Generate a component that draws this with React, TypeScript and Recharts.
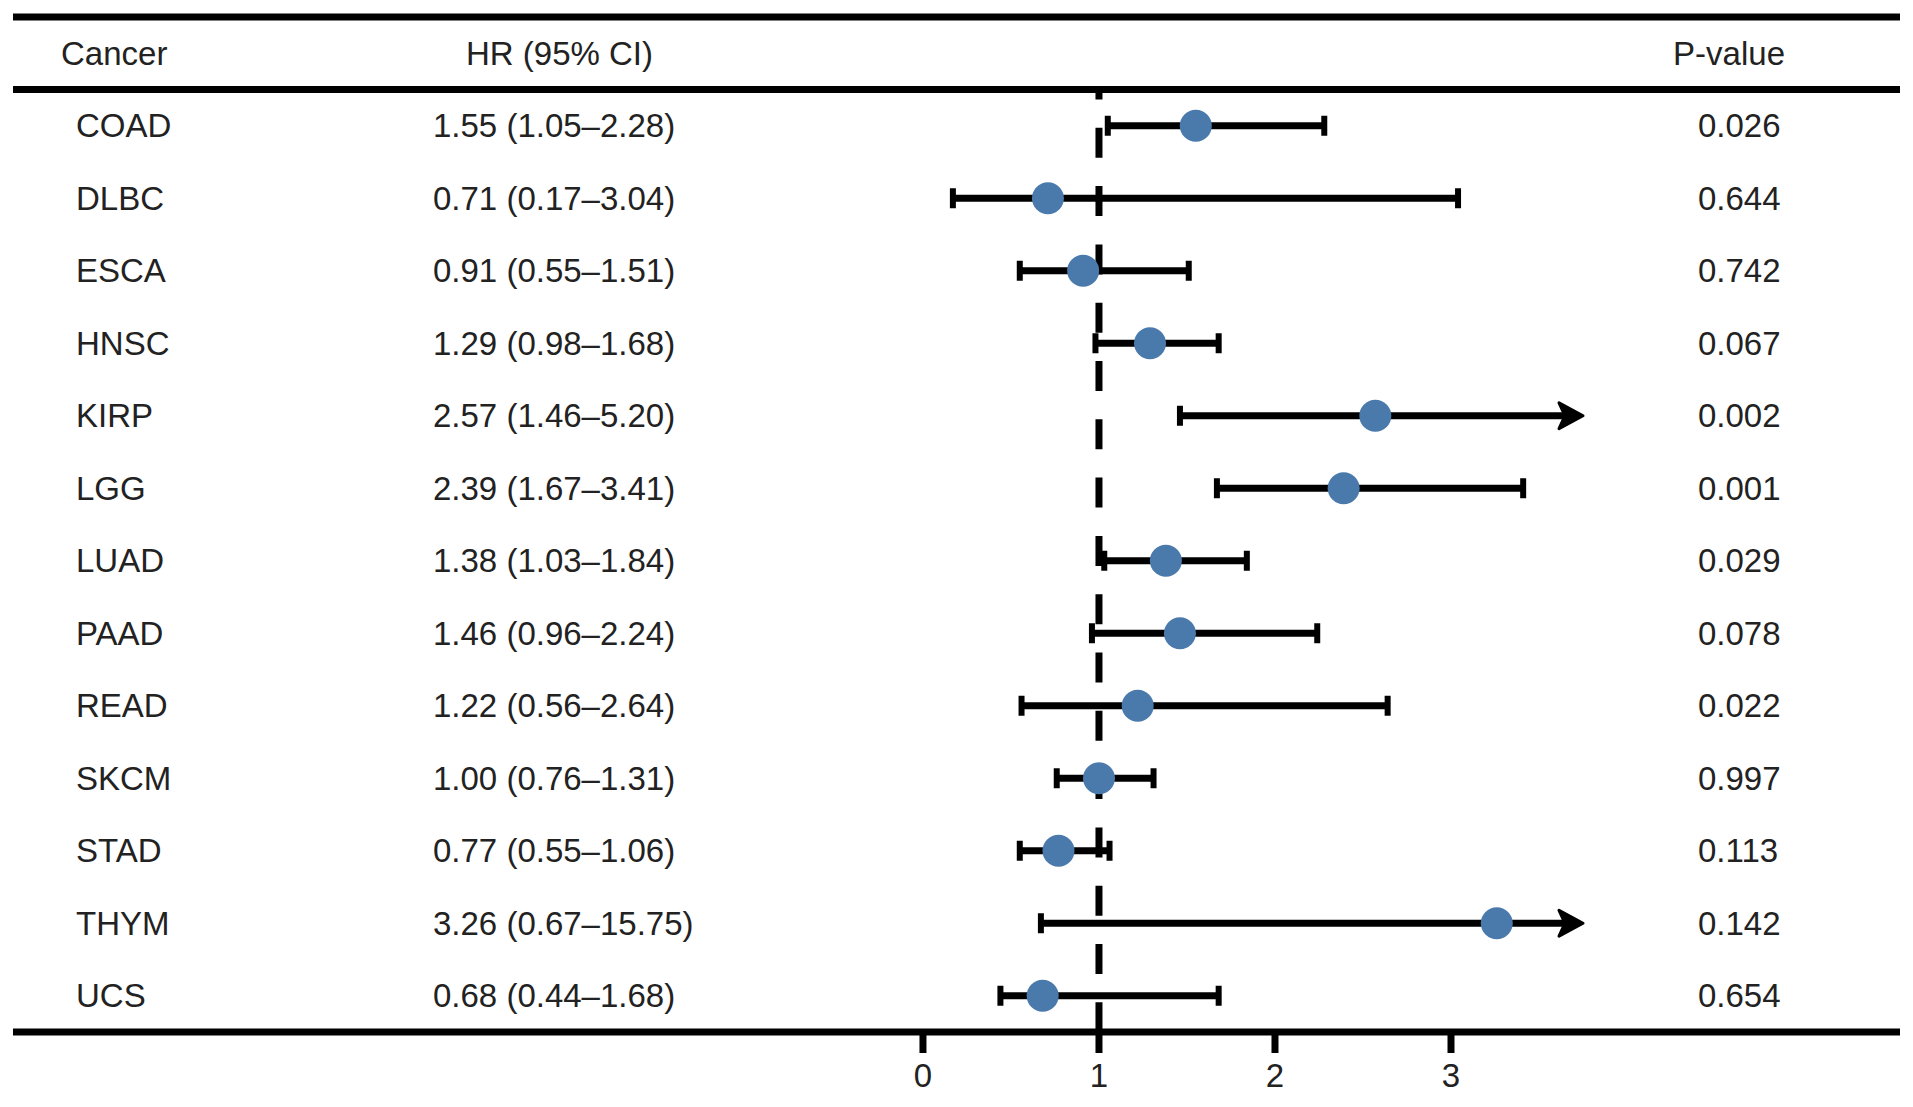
import React from 'react';
import { ScatterChart, Scatter, XAxis, YAxis, ReferenceLine } from 'recharts';

const cancers = ['COAD', 'DLBC', 'ESCA', 'HNSC', 'KIRP', 'LGG', 'LUAD', 'PAAD', 'READ', 'SKCM', 'STAD', 'THYM', 'UCS'];
const hr = [1.55, 0.71, 0.91, 1.29, 2.57, 2.39, 1.38, 1.46, 1.22, 1.0, 0.77, 3.26, 0.68];
const lower = [1.05, 0.17, 0.55, 0.98, 1.46, 1.67, 1.03, 0.96, 0.56, 0.76, 0.55, 0.67, 0.44];
const upper = [2.28, 3.04, 1.51, 1.68, 5.2, 3.41, 1.84, 2.24, 2.64, 1.31, 1.06, 15.75, 1.68];
const hrLabels = [
  '1.55 (1.05–2.28)', '0.71 (0.17–3.04)', '0.91 (0.55–1.51)', '1.29 (0.98–1.68)',
  '2.57 (1.46–5.20)', '2.39 (1.67–3.41)', '1.38 (1.03–1.84)', '1.46 (0.96–2.24)',
  '1.22 (0.56–2.64)', '1.00 (0.76–1.31)', '0.77 (0.55–1.06)', '3.26 (0.67–15.75)',
  '0.68 (0.44–1.68)',
];
const pValues = ['0.026', '0.644', '0.742', '0.067', '0.002', '0.001', '0.029', '0.078', '0.022', '0.997', '0.113', '0.142', '0.654'];
const xTicks = [0, 1, 2, 3];

// x axis is cut here, longer CIs get an arrow
const AXIS_MAX = 3.75;

const FONT = '"Liberation Sans", Arial, Helvetica, sans-serif';
const TEXT = '#222';
const DOT = '#4a7aab';

const rowTicks = [-1, ...cancers.map((_, i) => i)];
const pointData = hr.map((v, i) => ({ x: v, y: i }));
const lowCapData = lower.map((v, i) => ({ x: v, y: i }));
const highCapData = upper.map((v, i) => ({ x: v, y: i })).filter((d) => d.x <= AXIS_MAX);
const arrowData = upper.map((v, i) => ({ x: AXIS_MAX, y: i, over: v > AXIS_MAX })).filter((d) => d.over);

const textStyle = { fontSize: 33, fontFamily: FONT, fill: TEXT };

const renderRowTick = (props: any) => {
  const { y, payload } = props;
  const i = payload.value;
  if (i === -1) {
    return (
      <g>
        <text x={53} y={y} dy="0.35em" {...textStyle}>Cancer</text>
        <text x={458} y={y} dy="0.35em" {...textStyle}>HR (95% CI)</text>
        <text x={1777} y={y} dy="0.35em" textAnchor="end" {...textStyle}>P-value</text>
      </g>
    );
  }
  return (
    <g>
      <text x={68} y={y} dy="0.35em" {...textStyle}>{cancers[i]}</text>
      <text x={425} y={y} dy="0.35em" {...textStyle}>{hrLabels[i]}</text>
      <text x={1690} y={y} dy="0.35em" {...textStyle}>{pValues[i]}</text>
    </g>
  );
};

const renderXTick = (props: any) => {
  const { x, y, payload } = props;
  return (
    <text x={x} y={y} dy="0.71em" textAnchor="middle" {...textStyle}>{payload.value}</text>
  );
};

const Cap = (props: any) => {
  const { cx, cy } = props;
  return <line x1={cx} y1={cy - 10} x2={cx} y2={cy + 10} stroke="#000" strokeWidth={6} />;
};

const Arrow = (props: any) => {
  const { cx, cy } = props;
  return <path d={`M${cx},${cy} L${cx - 24},${cy - 13} L${cx - 18},${cy} L${cx - 24},${cy + 13} Z`} fill="#000" stroke="#000" strokeWidth={3} strokeLinejoin="round" />;
};

const Dot = (props: any) => {
  const { cx, cy } = props;
  return <circle cx={cx} cy={cy} r={16} fill={DOT} />;
};

export default function App() {
  return (
    <ScatterChart width={1897} height={1095} margin={{ top: 9, right: 5, bottom: 0, left: 4 }}>
      <XAxis
        type="number"
        dataKey="x"
        domain={[-5.17, 5.551]}
        allowDataOverflow
        ticks={xTicks}
        interval={0}
        axisLine={{ stroke: '#000', strokeWidth: 7 }}
        tickLine={{ stroke: '#000', strokeWidth: 7 }}
        tickSize={21}
        tickMargin={11}
        height={71}
        tick={renderXTick}
      />
      <YAxis
        type="number"
        dataKey="y"
        domain={[-1.5, 12.5]}
        reversed
        allowDataOverflow
        ticks={rowTicks}
        interval={0}
        axisLine={false}
        tickLine={false}
        width={1}
        tick={renderRowTick}
      />
      <ReferenceLine y={-1.5} stroke="#000" strokeWidth={7} />
      <ReferenceLine y={-0.5} stroke="#000" strokeWidth={7} />
      <ReferenceLine
        segment={[{ x: 1, y: -0.5 }, { x: 1, y: 12.5 }]}
        stroke="#000"
        strokeWidth={7}
        strokeDasharray="30 28.3"
        strokeDashoffset={20}
      />
      {cancers.map((c, i) => (
        <ReferenceLine
          key={c}
          segment={[{ x: lower[i], y: i }, { x: Math.min(upper[i], AXIS_MAX) - (upper[i] > AXIS_MAX ? 0.05 : 0), y: i }]}
          stroke="#000"
          strokeWidth={7}
        />
      ))}
      <Scatter data={lowCapData} shape={<Cap />} isAnimationActive={false} />
      <Scatter data={highCapData} shape={<Cap />} isAnimationActive={false} />
      <Scatter data={pointData} shape={<Dot />} isAnimationActive={false} />
      <Scatter data={arrowData} shape={<Arrow />} isAnimationActive={false} />
    </ScatterChart>
  );
}
